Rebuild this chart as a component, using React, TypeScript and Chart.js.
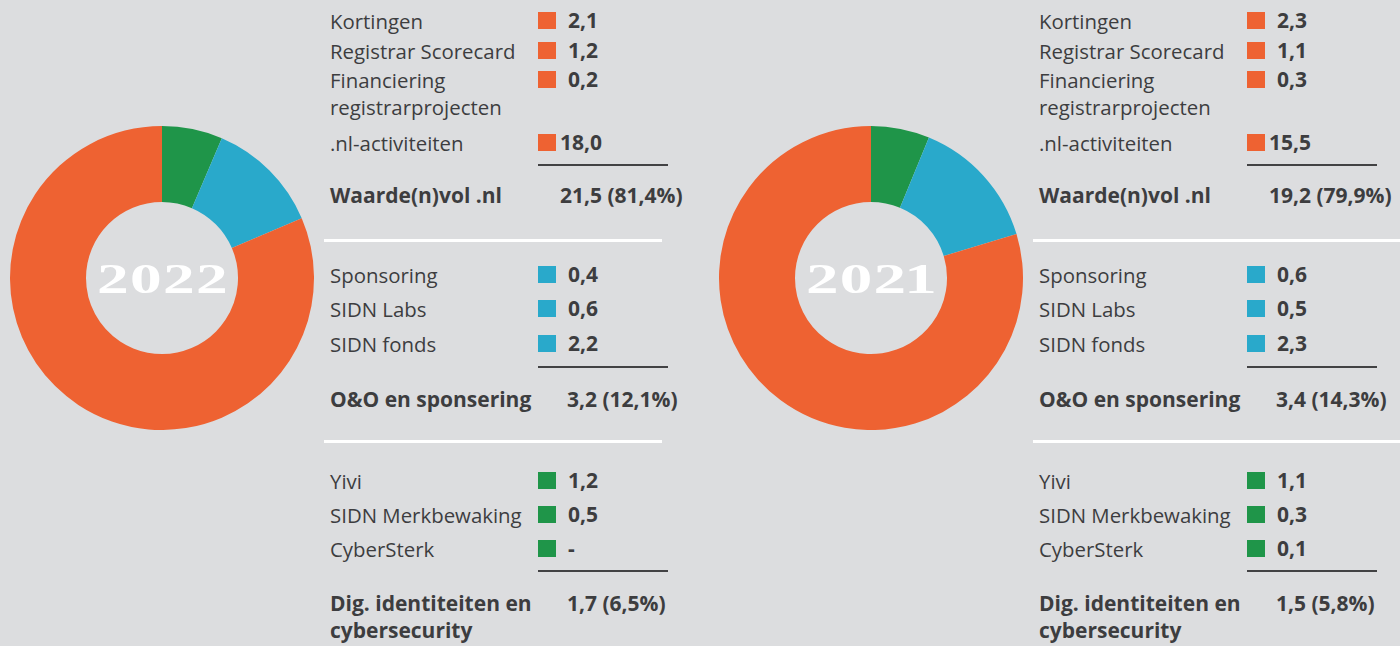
import React, { useEffect, useRef } from "react";
import { Chart, registerables } from "chart.js";

Chart.register(...registerables);

// ---------- data ----------
const groupNames = ["Dig. identiteiten en\ncybersecurity", "O&O en sponsering", "Waarde(n)vol .nl"];
const groupColors = ["#1f9549", "#29a9cb", "#ee6232"];

const years = ["2022", "2021"];
const totals2022 = [1.7, 3.2, 21.5];
const totals2021 = [1.5, 3.4, 19.2];
const pct2022 = [6.5, 12.1, 81.4];
const pct2021 = [5.8, 14.3, 79.9];

const nlLabels = ["Kortingen", "Registrar Scorecard", "Financiering\nregistrarprojecten", ".nl-activiteiten"];
const nl2022 = [2.1, 1.2, 0.2, 18.0];
const nl2021 = [2.3, 1.1, 0.3, 15.5];

const ooLabels = ["Sponsoring", "SIDN Labs", "SIDN fonds"];
const oo2022 = [0.4, 0.6, 2.2];
const oo2021 = [0.6, 0.5, 2.3];

const digLabels = ["Yivi", "SIDN Merkbewaking", "CyberSterk"];
const dig2022: (number | null)[] = [1.2, 0.5, null];
const dig2021: (number | null)[] = [1.1, 0.3, 0.1];

// ---------- helpers ----------
const BG = "#dcdddf";
const TXT = "#3d3d3f";
const FONT = "'Open Sans', 'Noto Sans', sans-serif";

const fmt = (v: number | null) => (v === null ? "-" : v.toFixed(1).replace(".", ","));

function makeCenterPlugin(text: string) {
  return {
    id: "centerText",
    afterDraw(chart: any) {
      const arc = chart.getDatasetMeta(0).data[0];
      if (!arc) return;
      const cx = arc.x;
      const cy = arc.y;
      const ctx = chart.ctx;
      ctx.save();
      ctx.font = "bold 43px 'Liberation Serif', 'Times New Roman', serif";
      ctx.fillStyle = "#ffffff";
      ctx.textBaseline = "alphabetic";
      ctx.textAlign = "left";
      const chars = [...text];
      const ms = chars.map((c) => ctx.measureText(c));
      const inks = ms.map((m: any) => m.actualBoundingBoxLeft + m.actualBoundingBoxRight);
      const inkSum = inks.reduce((a: number, b: number) => a + b, 0);
      const target = 127;
      const gap = 5;
      const sx = Math.min(1.6, Math.max(1, (target - gap * (chars.length - 1)) / inkSum));
      const realGap = (target - inkSum * sx) / (chars.length - 1);
      let x = cx - target / 2;
      chars.forEach((c, i) => {
        const m: any = ms[i];
        ctx.save();
        ctx.translate(x + m.actualBoundingBoxLeft * sx, cy + 14.5);
        ctx.scale(sx, 1);
        ctx.fillText(c, 0, 0);
        ctx.restore();
        x += inks[i] * sx + realGap;
      });
      ctx.restore();
    },
  };
}

function Donut({ values, year, left, top, size }: { values: number[]; year: string; left: number; top: number; size: number }) {
  const ref = useRef<HTMLCanvasElement>(null);
  useEffect(() => {
    const chart = new Chart(ref.current!, {
      type: "doughnut",
      data: {
        labels: groupNames.map((g) => g.replace("\n", " ")),
        datasets: [{ data: values, backgroundColor: groupColors, borderWidth: 0, hoverOffset: 0 }],
      },
      options: {
        responsive: false,
        animation: false,
        cutout: "50%",
        rotation: 0,
        layout: { padding: 0 },
        plugins: { legend: { display: false }, tooltip: { enabled: false } },
      },
      plugins: [makeCenterPlugin(year)],
    } as any);
    return () => chart.destroy();
  }, []);
  return (
    <canvas
      ref={ref}
      width={size}
      height={size}
      style={{ position: "absolute", left, top, width: size, height: size }}
    />
  );
}

const LH = 27;
function T({ x, baseline, size, bold, children }: { x: number; baseline: number; size: number; bold?: boolean; children: React.ReactNode }) {
  const top = baseline - (LH / 2 + 0.388 * size);
  return (
    <div
      style={{
        position: "absolute",
        left: x,
        top,
        fontFamily: FONT,
        fontSize: size,
        fontWeight: bold ? 700 : 400,
        lineHeight: `${LH}px`,
        color: TXT,
        whiteSpace: "pre",
      }}
    >
      {children}
    </div>
  );
}

function Rect({ x, y, w, h, color }: { x: number; y: number; w: number; h: number; color: string }) {
  return <div style={{ position: "absolute", left: x, top: y, width: w, height: h, background: color }} />;
}

function Panel({
  dx,
  nl,
  oo,
  dig,
  totals,
  pcts,
  whiteWidth,
}: {
  dx: number;
  nl: number[];
  oo: number[];
  dig: (number | null)[];
  totals: number[];
  pcts: number[];
  whiteWidth: number;
}) {
  const labelX = 330 + dx;
  const sqX = 538 + dx;
  const valX = (v: number | null) => sqX + (v !== null && v >= 10 ? 22 : 30);
  const items: React.ReactNode[] = [];

  const section = (labels: string[], vals: (number | null)[], baselines: number[], color: string, key: string) => {
    labels.forEach((lab, i) => {
      items.push(
        <T key={key + "l" + i} x={labelX} baseline={baselines[i]} size={20.4}>
          {lab}
        </T>
      );
      items.push(<Rect key={key + "s" + i} x={sqX} y={baselines[i] - 17} w={18} h={17} color={color} />);
      items.push(
        <T key={key + "v" + i} x={valX(vals[i])} baseline={baselines[i]} size={21} bold>
          {fmt(vals[i])}
        </T>
      );
    });
  };

  const total = (gi: number, baseline: number, key: string) => {
    items.push(
      <T key={key + "tl"} x={labelX} baseline={baseline} size={21} bold>
        {groupNames[gi]}
      </T>
    );
    items.push(
      <T key={key + "tv"} x={sqX + (totals[gi] >= 10 ? 22 : 29)} baseline={baseline} size={21} bold>
        {`${fmt(totals[gi])} (${pcts[gi].toFixed(1).replace(".", ",")}%)`}
      </T>
    );
  };

  // Waarde(n)vol .nl
  section(nlLabels, nl, [29, 59, 88, 151], groupColors[2], "a");
  items.push(<Rect key="d1" x={sqX} y={164} w={130} h={2} color="#424244" />);
  total(2, 204, "a");
  items.push(<Rect key="w1" x={324 + dx} y={239} w={whiteWidth} h={3} color="#ffffff" />);

  // O&O en sponsering
  section(ooLabels, oo, [283, 317, 352], groupColors[1], "b");
  items.push(<Rect key="d2" x={sqX} y={366} w={130} h={2} color="#424244" />);
  total(1, 408, "b");
  items.push(<Rect key="w2" x={324 + dx} y={440} w={whiteWidth} h={3} color="#ffffff" />);

  // Dig. identiteiten
  section(digLabels, dig, [489, 523, 557], groupColors[0], "c");
  items.push(<Rect key="d3" x={sqX} y={570} w={130} h={2} color="#424244" />);
  total(0, 612, "c");

  return <>{items}</>;
}

export default function App() {
  return (
    <div
      style={{
        position: "absolute",
        left: 0,
        top: 0,
        width: 1400,
        height: 646,
        background: BG,
        overflow: "hidden",
      }}
    >
      <Donut values={totals2022} year={years[0]} left={10} top={126} size={304} />
      <Donut values={totals2021} year={years[1]} left={719} top={126} size={304} />
      <Panel dx={0} nl={nl2022} oo={oo2022} dig={dig2022} totals={totals2022} pcts={pct2022} whiteWidth={338} />
      <Panel dx={709} nl={nl2021} oo={oo2021} dig={dig2021} totals={totals2021} pcts={pct2021} whiteWidth={400} />
    </div>
  );
}
